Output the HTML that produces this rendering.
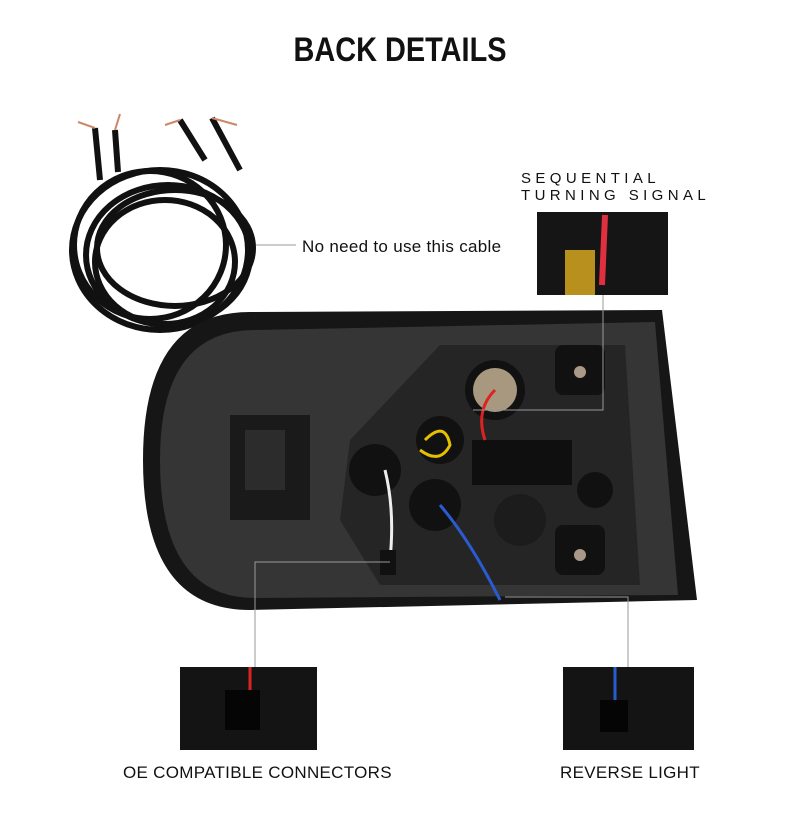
<!DOCTYPE html>
<html><head><meta charset="utf-8"><style>
html,body{margin:0;padding:0;background:#fff;}
body{width:800px;height:838px;position:relative;overflow:hidden;font-family:"Liberation Sans",sans-serif;}
.t{position:absolute;white-space:nowrap;color:#111;}
</style></head><body>
<svg width="800" height="838" style="position:absolute;left:0;top:0">
<!-- cable coil -->
<g fill="none" stroke="#111" stroke-width="6">
<ellipse cx="160" cy="250" rx="88" ry="80"/>
<ellipse cx="168" cy="255" rx="82" ry="70"/>
<ellipse cx="150" cy="245" rx="76" ry="74"/>
<ellipse cx="165" cy="262" rx="70" ry="62"/>
<ellipse cx="175" cy="248" rx="78" ry="58"/>
<path d="M100 180 L95 128 M118 172 L115 130 M205 160 L180 120 M240 170 L212 118"/>
</g>
<path d="M95 128 L78 122 M115 130 L120 114 M180 120 L165 125 M212 118 L237 125" stroke="#c86" stroke-width="2"/>
<line x1="256" y1="245" x2="296" y2="245" stroke="#999" stroke-width="1"/>
<!-- tail light housing -->
<path d="M250 312 L662 310 L697 600 L250 610 Q143 610 143 460 Q143 312 250 312 Z" fill="#161616"/>
<path d="M255 330 L655 322 L678 595 L255 598 Q160 598 160 460 Q160 330 255 330 Z" fill="#353535"/>
<path d="M440 345 L625 345 L640 585 L380 585 L340 520 L350 440 Z" fill="#252525"/>
<rect x="230" y="415" width="80" height="105" fill="#1a1a1a"/>
<rect x="245" y="430" width="40" height="60" fill="#2c2c2c"/>
<circle cx="495" cy="390" r="30" fill="#111"/><circle cx="495" cy="390" r="22" fill="#a89880"/>
<circle cx="440" cy="440" r="24" fill="#111"/>
<circle cx="375" cy="470" r="26" fill="#111"/>
<circle cx="435" cy="505" r="26" fill="#111"/>
<circle cx="520" cy="520" r="26" fill="#1c1c1c"/>
<circle cx="595" cy="490" r="18" fill="#111"/>
<rect x="555" y="345" width="50" height="50" rx="8" fill="#111"/>
<rect x="555" y="525" width="50" height="50" rx="8" fill="#111"/>
<circle cx="580" cy="372" r="6" fill="#a98"/><circle cx="580" cy="555" r="6" fill="#a98"/>
<rect x="472" y="440" width="100" height="45" fill="#0f0f0f"/>
<g fill="none" stroke-width="3">
<path d="M425 440 Q445 420 450 445 Q440 465 420 450" stroke="#e5c000"/>
<path d="M385 470 Q395 510 390 560" stroke="#eee"/>
<path d="M440 505 Q470 540 500 600" stroke="#2a5bd0"/>
<path d="M495 390 Q475 410 485 440" stroke="#d22"/>
</g>
<rect x="380" y="550" width="16" height="25" fill="#111"/>
<!-- connector lines -->
<g stroke="#999" stroke-width="1" fill="none">
<path d="M603 295 L603 410 L473 410"/>
<path d="M390 562 L255 562 L255 667"/>
<path d="M505 597 L628 597 L628 667"/>
</g>
<!-- insets -->
<rect x="537" y="212" width="131" height="83" fill="#151515"/>
<rect x="565" y="250" width="30" height="45" fill="#b8901e"/>
<path d="M605 215 L602 285" stroke="#e03040" stroke-width="6"/>
<rect x="180" y="667" width="137" height="83" fill="#141414"/>
<rect x="225" y="690" width="35" height="40" fill="#050505"/>
<path d="M250 667 L250 690" stroke="#d22" stroke-width="3"/>
<rect x="563" y="667" width="131" height="83" fill="#141414"/>
<rect x="600" y="700" width="28" height="32" fill="#050505"/>
<path d="M615 667 L615 700" stroke="#2a5bd0" stroke-width="3"/>
</svg>
<div class="t" style="left:0;width:800px;text-align:center;top:31px;font-size:34px;font-weight:bold;transform:scaleX(0.85);">BACK DETAILS</div>
<div class="t" style="left:302px;top:237px;font-size:17px;letter-spacing:0.3px">No need to use this cable</div>
<div class="t" style="left:521px;top:170px;font-size:15px;letter-spacing:4.4px;line-height:17px">SEQUENTIAL<br>TURNING SIGNAL</div>
<div class="t" style="left:123px;top:763px;font-size:17px;letter-spacing:0.3px">OE COMPATIBLE CONNECTORS</div>
<div class="t" style="left:560px;top:763px;font-size:17px;letter-spacing:0.3px">REVERSE LIGHT</div>
</body></html>
